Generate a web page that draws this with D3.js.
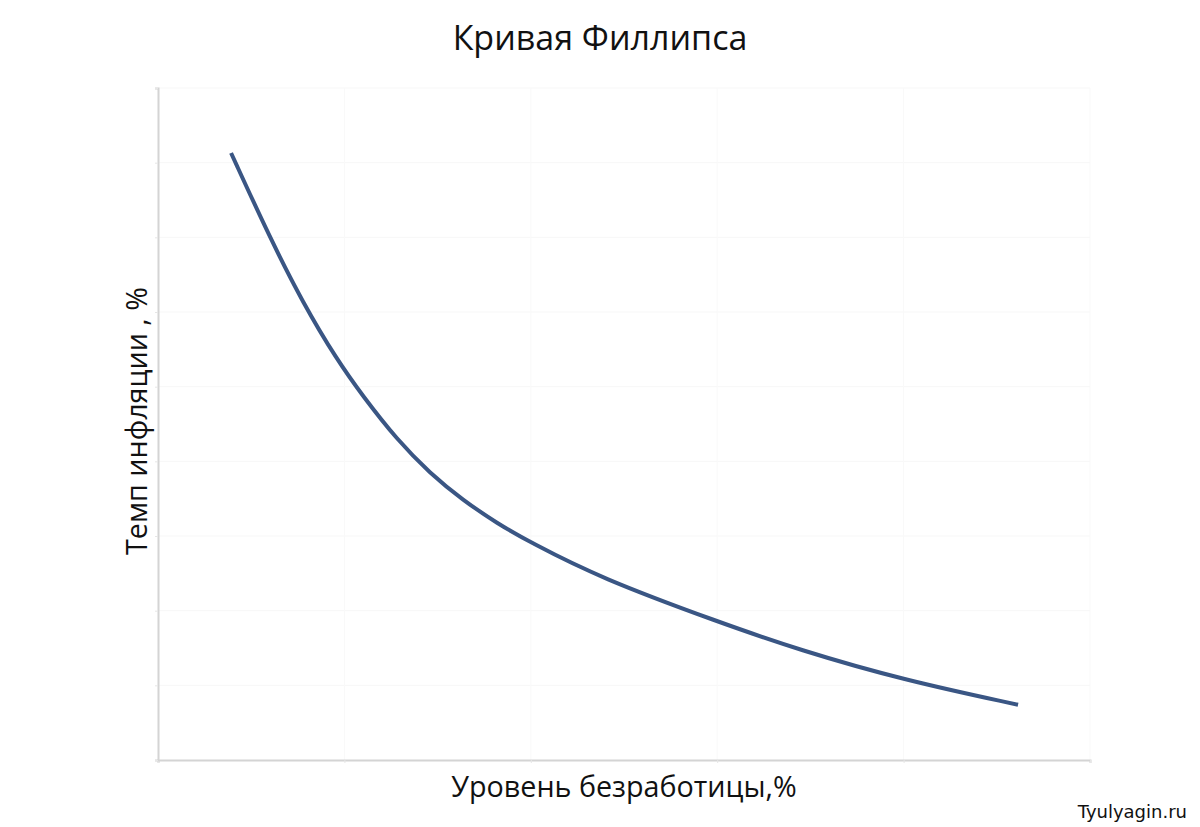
<!DOCTYPE html>
<html><head><meta charset="utf-8">
<script src="https://cdn.jsdelivr.net/npm/d3@7"></script>
<style>body{margin:0;background:#fff}svg{display:block}</style>
</head><body>
<svg id="c" width="1200" height="827"></svg>
<script>
const unemployment = [0.392,0.601,0.778,0.960,1.100,1.282,1.459,1.636,1.819,2.001,2.371,3.004,3.444,4.002,4.614];
const inflation    = [8.13,6.99,6.12,5.36,4.87,4.29,3.84,3.48,3.17,2.91,2.44,1.85,1.47,1.07,0.74];
const xTicks = [0,1,2,3,4,5];
const yTicks = [0,1,2,3,4,5,6,7,8,9];
const title = "Кривая Филлипса";
const xLabel = "Уровень безработицы,%";
const yLabel = "Темп инфляции , %";
const credit = "Tyulyagin.ru";

const svg = d3.select("#c");
const L = 158, R = 1090, T = 88, B = 760;
const x = d3.scaleLinear().domain([0,5]).range([L,R]);
const y = d3.scaleLinear().domain([0,9]).range([B,T]);

// faint gridlines
svg.append("g").selectAll("line").data(yTicks.slice(1)).join("line")
  .attr("x1", L).attr("x2", R).attr("y1", d=>y(d)).attr("y2", d=>y(d))
  .attr("stroke", "#f7f7f7").attr("stroke-width", 1);
svg.append("g").selectAll("line").data(xTicks.slice(1)).join("line")
  .attr("x1", d=>x(d)).attr("x2", d=>x(d)).attr("y1", T).attr("y2", B)
  .attr("stroke", "#f9f9f9").attr("stroke-width", 1);

// axes
const xa = svg.append("g").attr("transform", `translate(0,${B})`)
  .call(d3.axisBottom(x).tickValues(xTicks).tickSize(3).tickFormat(""));
const ya = svg.append("g").attr("transform", `translate(${L},0)`)
  .call(d3.axisLeft(y).tickValues(yTicks).tickSize(3).tickFormat(""));
[xa, ya].forEach(a => {
  a.select(".domain").attr("stroke", "#d4d4d4").attr("stroke-width", 2);
  a.selectAll(".tick line").attr("stroke", "#e6e6e6");
});

// curve
const pts = unemployment.map((u,i)=>[u, inflation[i]]);
svg.append("path").datum(pts)
  .attr("d", d3.line().x(d=>x(d[0])).y(d=>y(d[1])).curve(d3.curveBasis))
  .attr("fill", "none").attr("stroke", "#3a5684").attr("stroke-width", 4).attr("stroke-linecap", "butt");

// text
const font = "'Open Sans', 'Noto Sans', sans-serif";
svg.append("text").attr("x", 600).attr("y", 50).attr("text-anchor", "middle")
  .attr("font-family", font).attr("font-size", 34).attr("fill", "#111").text(title);
svg.append("text").attr("x", 624).attr("y", 797).attr("text-anchor", "middle")
  .attr("font-family", font).attr("font-size", 28.7).attr("fill", "#111").text(xLabel);
svg.append("text").attr("transform", "translate(147,421) rotate(-90)").attr("text-anchor", "middle")
  .attr("font-family", font).attr("font-size", 28.7).attr("fill", "#111").text(yLabel);
svg.append("text").attr("x", 1187).attr("y", 818).attr("text-anchor", "end")
  .attr("font-family", "'DejaVu Sans', sans-serif").attr("font-size", 18).attr("fill", "#111").text(credit);
</script>
</body></html>
